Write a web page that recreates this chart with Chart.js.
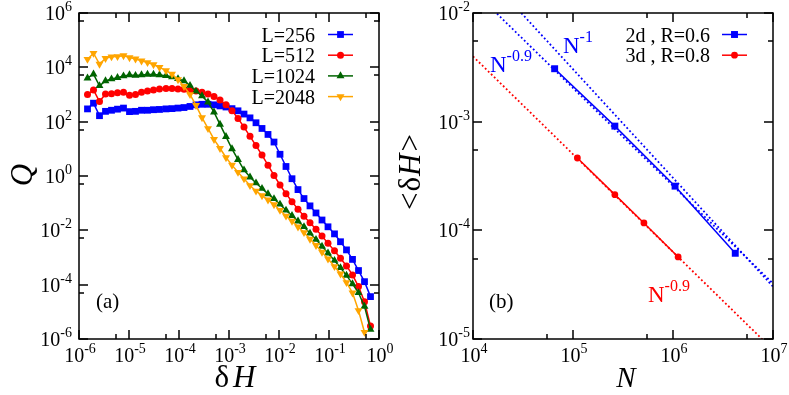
<!DOCTYPE html>
<html>
<head>
<meta charset="utf-8">
<title>Q(dH) and mean dH versus N</title>
<script src="https://cdn.jsdelivr.net/npm/chart.js@4.4.1/dist/chart.umd.min.js"></script>
<style>
  html, body { margin: 0; padding: 0; background: #fff; }
  #wrap { position: relative; width: 789px; height: 395px; overflow: hidden; background: #fff; }
  #wrap canvas { position: absolute; left: 0; top: 0; }
</style>
</head>
<body>
<div id="wrap">
  <canvas id="chartA" width="789" height="395"></canvas>
  <canvas id="chartB" width="789" height="395"></canvas>
</div>
<script>
// ---- panel (a): Q versus dH, one curve per system size (log10 values)
const logDH = [-5.83, -5.71, -5.59, -5.47, -5.35, -5.23, -5.11, -4.99, -4.87, -4.75,
  -4.63, -4.51, -4.39, -4.26, -4.14, -4.02, -3.90, -3.78, -3.66, -3.54,
  -3.42, -3.30, -3.18, -3.06, -2.94, -2.82, -2.70, -2.58, -2.46, -2.34,
  -2.22, -2.10, -1.98, -1.86, -1.74, -1.62, -1.50, -1.38, -1.26, -1.14,
  -1.02, -0.89, -0.77, -0.65, -0.53, -0.41, -0.29, -0.17];

const logQ256 = [2.47, 2.68, 2.22, 2.38, 2.42, 2.46, 2.50, 2.37, 2.38, 2.42,
  2.42, 2.44, 2.45, 2.47, 2.48, 2.50, 2.52, 2.56, 2.62, 2.64,
  2.64, 2.62, 2.58, 2.54, 2.48, 2.40, 2.28, 2.14, 1.96, 1.75,
  1.53, 1.25, 0.80, 0.35, -0.10, -0.50, -0.83, -1.10, -1.36, -1.62,
  -1.87, -2.13, -2.42, -2.72, -3.07, -3.48, -3.89, -4.44];

const logQ512 = [3.00, 3.17, 2.74, 3.02, 3.03, 3.06, 3.08, 2.97, 3.00, 3.08,
  3.13, 3.17, 3.20, 3.22, 3.22, 3.20, 3.19, 3.16, 3.13, 3.08,
  3.02, 2.93, 2.80, 2.62, 2.40, 2.12, 1.80, 1.46, 1.12, 0.77,
  0.40, 0.02, -0.33, -0.65, -0.95, -1.22, -1.48, -1.72, -1.96, -2.21,
  -2.48, -2.75, -3.03, -3.31, -3.64, -4.07, -4.63, -5.52];

const logQ1024 = [3.60, 3.75, 3.32, 3.50, 3.57, 3.62, 3.68, 3.72, 3.70, 3.72,
  3.74, 3.74, 3.72, 3.69, 3.65, 3.58, 3.50, 3.33, 3.12, 2.95,
  2.72, 2.35, 1.90, 1.45, 1.00, 0.60, 0.22, -0.04, -0.26, -0.46,
  -0.66, -0.84, -1.04, -1.26, -1.46, -1.66, -1.87, -2.11, -2.34, -2.59,
  -2.84, -3.11, -3.38, -3.66, -3.97, -4.30, -4.80, -5.65];

const logQ2048 = [4.30, 4.52, 4.12, 4.33, 4.39, 4.40, 4.43, 4.36, 4.31, 4.24,
  4.18, 4.10, 4.00, 3.88, 3.75, 3.55, 3.30, 3.00, 2.60, 2.15,
  1.75, 1.35, 1.02, 0.68, 0.40, 0.14, -0.10, -0.35, -0.55, -0.72,
  -0.88, -1.05, -1.26, -1.47, -1.66, -1.87, -2.08, -2.32, -2.55, -2.80,
  -3.05, -3.33, -3.60, -3.92, -4.30, -4.95, -5.75];

const sizeLabels = ["L=256", "L=512", "L=1024", "L=2048"];

// ---- panel (b): <dH> versus N
const labels2d3d = ["2d , R=0.6", "3d , R=0.8"];
const n2d = [65536, 262144, 1048576, 4194304];
const dH2d = [3.07e-3, 9.1e-4, 2.55e-4, 6.15e-5];
const n3d = [110592, 262144, 512000, 1124864];
const dH3d = [4.63e-4, 2.13e-4, 1.17e-4, 5.69e-5];
// power-law guide lines, given by their ends at N = 1e4 and N = 1e7
const fitN = [1e4, 1e7];
const fit2dSlope09 = [1.62e-2, 3.24e-5];
const fit2dSlope10 = [3.04e-2, 3.04e-5];
const fit3dSlope09 = [3.99e-3, 7.96e-6];

// tick positions
const xMajorA = [1e-6, 1e-5, 1e-4, 1e-3, 1e-2, 1e-1, 1];
const xMinorA = [5.5e-6, 5.5e-5, 5.5e-4, 5.5e-3, 5.5e-2, 5.5e-1];
const yMajorA = [1e-6, 1e-4, 1e-2, 1, 1e2, 1e4, 1e6];
const yMinorA = [5.05e-5, 5.05e-3, 0.505, 50.5, 5050, 5.05e5];
const xMajorB = [1e4, 1e5, 1e6, 1e7];
const xMinorB = [5.5e4, 5.5e5, 5.5e6];
const yMajorB = [1e-5, 1e-4, 1e-3, 1e-2];
const yMinorB = [5.5e-5, 5.5e-4, 5.5e-3];

const SERIF = '"Liberation Serif", "Times New Roman", serif';
const BLUE = "#0000ff", RED = "#ff0000", GREEN = "#006400", ORANGE = "#ffa500";

// draw a row of text pieces with different fonts / raise / extra gap
function drawRuns(ctx, runs, x, y, align) {
  let w = 0;
  for (const r of runs) { ctx.font = r[1]; w += ctx.measureText(r[0]).width + (r[3] || 0); }
  let cx = align === "center" ? x - w / 2 : align === "right" ? x - w : x;
  ctx.textAlign = "left";
  ctx.textBaseline = "alphabetic";
  for (const r of runs) {
    ctx.font = r[1];
    cx += r[3] || 0;
    ctx.fillText(r[0], cx, y + (r[2] || 0));
    cx += ctx.measureText(r[0]).width;
  }
}

function powRuns(v) {
  const e = Math.round(Math.log10(v));
  return [["10", "20px " + SERIF], [String(e), "14px " + SERIF, -9]];
}

function marker(ctx, style, x, y, r, color, rot) {
  ctx.fillStyle = color;
  ctx.beginPath();
  if (style === "rect") {
    const s = r * Math.SQRT1_2;
    ctx.rect(x - s, y - s, 2 * s, 2 * s);
  } else if (style === "circle") {
    ctx.arc(x, y, r, 0, Math.PI * 2);
  } else {
    let a = (rot || 0) * Math.PI / 180;
    for (let k = 0; k < 3; k++) {
      const px = x + Math.sin(a) * r, py = y - Math.cos(a) * r;
      if (k) ctx.lineTo(px, py); else ctx.moveTo(px, py);
      a += 2 * Math.PI / 3;
    }
    ctx.closePath();
  }
  ctx.fill();
}

// frame, inward ticks on all four sides, and 10^n tick labels
const boxAxes = {
  id: "boxAxes",
  afterDraw(chart, args, o) {
    const { ctx, chartArea: a } = chart;
    const sx = chart.scales.x, sy = chart.scales.y;
    ctx.save();
    ctx.strokeStyle = "#000";
    ctx.fillStyle = "#000";
    ctx.lineWidth = 1.5;
    ctx.strokeRect(a.left, a.top, a.right - a.left, a.bottom - a.top);
    ctx.beginPath();
    const tickX = (vals, len) => vals.forEach(v => {
      const p = Math.round(sx.getPixelForValue(v));
      ctx.moveTo(p, a.bottom); ctx.lineTo(p, a.bottom - len);
      ctx.moveTo(p, a.top); ctx.lineTo(p, a.top + len);
    });
    const tickY = (vals, len) => vals.forEach(v => {
      const p = Math.round(sy.getPixelForValue(v));
      ctx.moveTo(a.left, p); ctx.lineTo(a.left + len, p);
      ctx.moveTo(a.right, p); ctx.lineTo(a.right - len, p);
    });
    tickX(o.xMajor, 9); tickX(o.xMinor, 5);
    tickY(o.yMajor, 9); tickY(o.yMinor, 5);
    ctx.stroke();
    o.xMajor.forEach(v => drawRuns(ctx, powRuns(v), sx.getPixelForValue(v) + 1, a.bottom + 23, "center"));
    o.yMajor.forEach(v => drawRuns(ctx, powRuns(v), a.left - o.yGap, sy.getPixelForValue(v) + 7, "right"));
    ctx.restore();
  }
};

const seriesA = [
  { label: sizeLabels[0], logQ: logQ256, color: BLUE, style: "rect", r: 4.8, rot: 0 },
  { label: sizeLabels[1], logQ: logQ512, color: RED, style: "circle", r: 3.5, rot: 0 },
  { label: sizeLabels[2], logQ: logQ1024, color: GREEN, style: "triangle", r: 4.6, rot: 0 },
  { label: sizeLabels[3], logQ: logQ2048, color: ORANGE, style: "triangle", r: 4.6, rot: 180 }
];

new Chart(document.getElementById("chartA"), {
  type: "line",
  data: {
    datasets: seriesA.map((s, k) => ({
      label: s.label,
      data: s.logQ.map((q, i) => ({ x: Math.pow(10, logDH[i]), y: Math.pow(10, q) })),
      borderColor: s.color,
      backgroundColor: s.color,
      borderWidth: 1.5,
      pointStyle: s.style,
      pointRadius: s.r,
      pointRotation: s.rot,
      pointBorderWidth: 0,
      pointBackgroundColor: s.color,
      tension: 0,
      order: 4 - k
    }))
  },
  options: {
    responsive: false,
    animation: false,
    events: [],
    layout: { padding: { left: 79, right: 410, top: 13, bottom: 56 } },
    scales: {
      x: { type: "logarithmic", min: 1e-6, max: 1, display: false },
      y: { type: "logarithmic", min: 1e-6, max: 1e6, display: false }
    },
    plugins: {
      legend: { display: false },
      tooltip: { enabled: false },
      boxAxes: { xMajor: xMajorA, xMinor: xMinorA, yMajor: yMajorA, yMinor: yMinorA, yGap: 7 }
    }
  },
  plugins: [boxAxes, {
    id: "textA",
    afterDraw(chart) {
      const ctx = chart.ctx;
      ctx.save();
      // legend
      seriesA.forEach((s, k) => {
        const cy = 34.5 + 20.7 * k;
        ctx.fillStyle = "#000";
        drawRuns(ctx, [[s.label, "20px " + SERIF]], 315, cy + 7, "right");
        ctx.strokeStyle = s.color;
        ctx.lineWidth = 1.5;
        ctx.beginPath(); ctx.moveTo(328, cy); ctx.lineTo(353, cy); ctx.stroke();
        marker(ctx, s.style, 340.5, cy, s.r, s.color, s.rot);
      });
      ctx.fillStyle = "#000";
      drawRuns(ctx, [["(a)", "21px " + SERIF]], 96, 308, "left");
      drawRuns(ctx, [["\u03b4", "31px " + SERIF], ["H", "italic 31px " + SERIF, 0, 4]], 235, 387, "center");
      ctx.translate(32, 175);
      ctx.rotate(-Math.PI / 2);
      drawRuns(ctx, [["Q", "italic 31px " + SERIF]], 0, 0, "center");
      ctx.restore();
    }
  }]
});

const seriesB = [
  { label: labels2d3d[0], n: n2d, v: dH2d, color: BLUE, style: "rect", r: 4.9 },
  { label: labels2d3d[1], n: n3d, v: dH3d, color: RED, style: "circle", r: 3.4 }
];
const fitsB = [
  { v: fit2dSlope09, color: BLUE },
  { v: fit2dSlope10, color: BLUE },
  { v: fit3dSlope09, color: RED }
];

new Chart(document.getElementById("chartB"), {
  type: "line",
  data: {
    datasets: [
      ...seriesB.map(s => ({
        label: s.label,
        data: s.n.map((n, i) => ({ x: n, y: s.v[i] })),
        borderColor: s.color,
        backgroundColor: s.color,
        borderWidth: 1.5,
        pointStyle: s.style,
        pointRadius: s.r,
        pointBorderWidth: 0,
        pointBackgroundColor: s.color,
        tension: 0,
        order: 1
      })),
      ...fitsB.map(f => ({
        label: "fit",
        data: fitN.map((n, i) => ({ x: n, y: f.v[i] })),
        borderColor: f.color,
        borderWidth: 1.8,
        borderDash: [1.8, 2.4],
        pointRadius: 0,
        tension: 0,
        order: 2
      }))
    ]
  },
  options: {
    responsive: false,
    animation: false,
    events: [],
    layout: { padding: { left: 473, right: 16, top: 13, bottom: 56 } },
    scales: {
      x: { type: "logarithmic", min: 1e4, max: 1e7, display: false },
      y: { type: "logarithmic", min: 1e-5, max: 1e-2, display: false }
    },
    plugins: {
      legend: { display: false },
      tooltip: { enabled: false },
      boxAxes: { xMajor: xMajorB, xMinor: xMinorB, yMajor: yMajorB, yMinor: yMinorB, yGap: 3 }
    }
  },
  plugins: [boxAxes, {
    id: "textB",
    afterDraw(chart) {
      const ctx = chart.ctx;
      ctx.save();
      seriesB.forEach((s, k) => {
        const cy = 34.5 + 20.7 * k;
        ctx.fillStyle = "#000";
        drawRuns(ctx, [[s.label, "20px " + SERIF]], 710, cy + 7, "right");
        ctx.strokeStyle = s.color;
        ctx.lineWidth = 1.5;
        ctx.beginPath(); ctx.moveTo(722, cy); ctx.lineTo(747, cy); ctx.stroke();
        marker(ctx, s.style, 734.5, cy, s.r, s.color, 0);
      });
      ctx.fillStyle = BLUE;
      drawRuns(ctx, [["N", "23px " + SERIF], ["-0.9", "16px " + SERIF, -11]], 490, 72, "left");
      drawRuns(ctx, [["N", "23px " + SERIF], ["-1", "16px " + SERIF, -11]], 563, 53, "left");
      ctx.fillStyle = RED;
      drawRuns(ctx, [["N", "23px " + SERIF], ["-0.9", "16px " + SERIF, -11]], 648, 302, "left");
      ctx.fillStyle = "#000";
      drawRuns(ctx, [["(b)", "21px " + SERIF]], 489, 308, "left");
      drawRuns(ctx, [["N", "italic 29px " + SERIF]], 626, 387, "center");
      ctx.translate(420, 172);
      ctx.rotate(-Math.PI / 2);
      drawRuns(ctx, [["<", "31px " + SERIF], ["\u03b4", "31px " + SERIF, 0, 1], ["H", "italic 31px " + SERIF, 0, 1], [">", "31px " + SERIF, 0, 2]], 0, 0, "center");
      ctx.restore();
    }
  }]
});
</script>
</body>
</html>
